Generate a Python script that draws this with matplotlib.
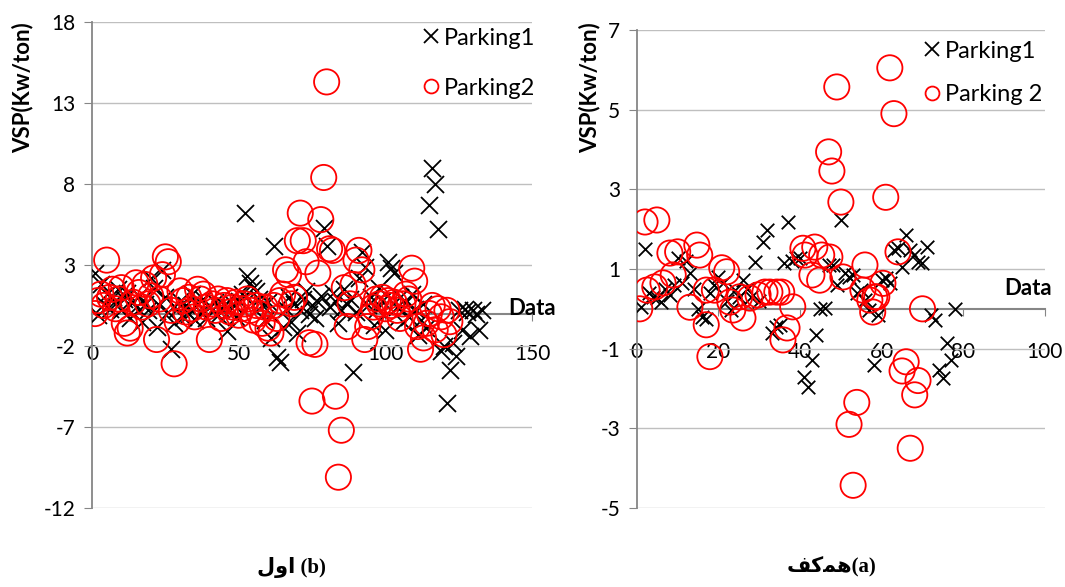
import numpy as np
import matplotlib
matplotlib.use("Agg")
import matplotlib.pyplot as plt
from matplotlib.lines import Line2D

plt.rcParams['font.family'] = ['Lato', 'DejaVu Sans']
plt.rcParams['axes.unicode_minus'] = False

# ---- left panel (b): VSP per data index ----
left_p1 = [2.5, -0.1, 1.8, 0.6, 1.2, 0.3, 1.0, 0.8, 1.5, 0.2,
           0.9, 1.3, -0.3, 0.7, 0.4, 1.1, -0.5, 0.6, 0.2, 2.2,
           1.6, -0.8, 0.5, 2.7, 1.0, 0.1, -2.2, -0.6, 0.3, 0.8,
           -0.2, 0.5, 0.0, 1.2, -0.4, 0.6, 0.1, 0.9, -0.3, 0.4,
           0.2, 0.7, -0.1, 0.3, 0.5, -1.1, 0.2, 0.6, -0.2, 0.8,
           1.2, 6.2, 2.3, 1.9, 1.6, 1.4, 0.9, 0.5, -0.4, 0.7,
           -1.5, 4.2, -2.7, -3.0, -0.8, 0.3, 1.0, -0.5, 0.6, -1.2,
           0.2, 0.9, 1.4, 0.0, 0.5, -0.3, 0.7, 1.1, 5.3, 4.2,
           0.4, 1.3, 0.8, -0.6, 0.2, 1.5, 0.6, 0.9, -3.6, 0.1,
           2.2, 3.8, 2.9, 0.5, 1.0, -0.7, 0.3, 1.6, 0.8, -1.0,
           3.2, 2.8, 2.5, 0.4, 1.0, -0.5, 0.7, -0.2, 1.2, 0.3,
           -1.3, -0.4, 0.6, -0.9, 6.7, 9.0, 8.0, 5.2, -2.3, -2.0,
           -5.5, -3.5, -1.8, -2.6, 0.2, -1.0, 0.3, 0.1, -1.4, 0.2,
           0.0, -1.0, 0.2]
left_p2 = [0.0, 0.8, 1.2, 0.5, 3.3, 1.0, 1.5, 0.3, 0.9, 1.6,
           -0.6, -1.2, -0.9, 0.7, 1.9, 1.3, 0.4, 1.8, 0.6, 1.1,
           2.2, -1.6, 0.9, 2.4, 3.5, 3.2, 0.2, -3.1, -0.5, 1.4,
           0.8, 0.1, 1.0, 0.3, -0.2, 1.5, 0.9, 1.2, 0.4, -1.6,
           0.6, 0.2, 0.9, -0.3, 0.5, 0.8, 0.1, 0.4, 0.7, -0.1,
           0.3, 0.6, 0.9, 0.2, -0.4, 0.5, 0.0, -0.6, 0.4, -0.9,
           -1.2, 0.5, -0.3, 0.8, 1.2, 2.7, 2.4, 0.6, 1.0, 4.5,
           6.2, 4.5, 3.2, -1.8, -5.4, -1.9, 2.5, 5.8, 8.4, 14.3,
           4.0, 3.9, -5.1, -10.1, -7.2, 1.6, -0.8, 0.6, 1.8, 3.3,
           3.9, 2.7, -1.6, -0.8, -0.2, 0.4, 0.9, 0.6, 1.0, 0.3,
           0.8, 0.5, 0.7, 0.2, -0.3, 0.6, 1.2, 0.9, 2.8, 2.0,
           -0.8, -2.2, -1.5, -0.6, 0.0, 0.5, -1.0, 0.3, -0.2, -1.3,
           0.2, -0.5]

# ---- right panel (a) ----
right_p1 = [0.05, 1.5, 0.4, 0.3, 0.27, 0.17, 0.5, 0.35, 0.6, 1.27,
            0.65, 1.2, 0.9, 0.5, 0.0, -0.2, -0.25, 0.4, 0.6, 0.8,
            0.65, 0.2, -0.03, 0.47, 0.3, 0.72, 0.5, 0.3, 1.18, 0.2,
            1.68, 1.97, -0.6, -0.45, -0.4, 1.15, 2.18, 1.2, 1.27, 1.27,
            -1.7, -1.96, -1.28, -0.66, 0.0, 0.02, 1.1, 1.1, 0.6, 2.23,
            0.9, 0.8, 0.85, 0.4, 0.47, 0.22, -0.03, -1.42, -0.16, 0.72,
            0.77, 0.64, 1.48, 1.52, 1.05, 1.85, 1.48, 1.35, 1.18, 1.15,
            1.55, -0.16, -0.28, -1.54, -1.74, -0.86, -1.28, 0.0]
right_p2_x = [0.7, 2, 2.5, 4.4, 4.9, 6.4, 8.1, 8.9, 10, 13,
              14.7, 15.4, 17, 17, 17.9, 19, 20.8, 22, 22.8, 23.5,
              25.2, 26, 27.7, 29.7, 31.4, 32.6, 34.3, 35.5, 35.8, 36.8,
              38.2, 40.7, 41.2, 42.9, 43.6, 44.8, 45.3, 47, 47.3, 47.8,
              49, 50, 50.5, 52, 53, 53.9, 55.4, 55.9, 57.1, 57.8,
              58.3, 58.8, 60.3, 61, 62, 63, 64, 65, 66, 67,
              68.1, 68.9, 70]
right_p2_y = [0.0, 2.18, 0.47, 0.55, 2.23, 0.65, 1.4, 0.85, 1.43, 0.04,
              1.6, 1.35, -0.4, 0.47, -1.2, 0.47, 1.03, 0.93, 0.17, -0.03,
              0.3, -0.23, 0.27, 0.35, 0.42, 0.42, 0.42, 0.42, -0.78, -0.48,
              0.05, 1.52, 1.35, 0.85, 1.55, 0.72, 1.35, 3.94, 1.3, 3.46,
              5.57, 2.68, 0.8, -2.9, -4.43, -2.35, 0.47, 1.1, 0.22, -0.08,
              0.3, 0.3, 0.64, 2.8, 6.05, 4.9, 1.43, -1.56, -1.33, -3.5,
              -2.16, -1.8, 0.0]

AX_GRAY = '#868686'
GRID_GRAY = '#bfbfbf'
FS = 15
LEG_FS = 17

fig = plt.figure(figsize=(10.65, 5.87), dpi=100)


def style_axes(ax, ylim, yticks, xlim, xticks, xpad):
    ax.set_xlim(*xlim)
    ax.set_ylim(*ylim)
    ax.set_yticks(yticks)
    ax.set_xticks(xticks)
    ax.spines['top'].set_visible(False)
    ax.spines['right'].set_visible(False)
    ax.spines['left'].set_color(AX_GRAY)
    ax.spines['left'].set_linewidth(1.3)
    ax.spines['bottom'].set_position(('data', 0))
    ax.spines['bottom'].set_color(AX_GRAY)
    ax.spines['bottom'].set_linewidth(1.5)
    ax.yaxis.grid(True, color=GRID_GRAY, linewidth=1.0)
    ax.set_axisbelow(True)
    ax.tick_params(axis='y', direction='out', length=6, color=AX_GRAY,
                   labelsize=FS, pad=6)
    ax.tick_params(axis='x', direction='out', length=5, color=AX_GRAY,
                   labelsize=FS, pad=xpad)


def legend_handles():
    return [Line2D([], [], marker='x', ls='', ms=10, mew=1.3, color='black'),
            Line2D([], [], marker='o', ls='', ms=10, mew=1.3, mfc='none', mec='red')]


# left chart
ax1 = fig.add_axes([0.0864, 0.1346, 0.4131, 0.828])
x1 = np.arange(1, len(left_p1) + 1)
x2 = np.arange(1, len(left_p2) + 1)
ax1.scatter(x1, left_p1, marker='x', s=150, c='black', linewidths=1.3, zorder=3)
ax1.scatter(x2, left_p2, marker='o', s=330, facecolors='none',
            edgecolors='red', linewidths=1.3, zorder=4)
style_axes(ax1, (-12, 18), np.arange(-12, 19, 5), (0, 150), [0, 50, 100, 150], 17)
ax1.text(150, 0.3, 'Data', fontsize=16, fontweight='bold', ha='center', va='center')
fig.legend(legend_handles(), ['Parking1', 'Parking2'], loc='upper left',
           bbox_to_anchor=(0.385, 0.973), frameon=False, fontsize=LEG_FS,
           handlelength=0.8, handletextpad=0.15, labelspacing=1.23, borderpad=0)
fig.text(0.021, 0.85, 'VSP(Kw/ton)', rotation=90, fontsize=16, fontweight='bold',
         ha='center', va='center')

# right chart
ax2 = fig.add_axes([0.598, 0.1346, 0.3831, 0.8143])
x3 = np.arange(1, len(right_p1) + 1)
ax2.scatter(x3, right_p1, marker='x', s=95, c='black', linewidths=1.3, zorder=3)
ax2.scatter(right_p2_x, right_p2_y, marker='o', s=330, facecolors='none',
            edgecolors='red', linewidths=1.3, zorder=4)
style_axes(ax2, (-5, 7), np.arange(-5, 8, 2), (0, 100), np.arange(0, 101, 20), 19)
ax2.text(96, 0.5, 'Data', fontsize=16, fontweight='bold', ha='center', va='center')
fig.legend(legend_handles(), ['Parking1', 'Parking 2'], loc='upper left',
           bbox_to_anchor=(0.855, 0.951), frameon=False, fontsize=LEG_FS,
           handlelength=0.8, handletextpad=0.15, labelspacing=0.97, borderpad=0)
fig.text(0.554, 0.85, 'VSP(Kw/ton)', rotation=90, fontsize=16, fontweight='bold',
         ha='center', va='center')

# captions (Persian words written in visual order)
cap_font = ['Liberation Serif', 'DejaVu Sans']
fig.text(0.274, 0.034, '\u0644\u0648\u0627 (b)', fontsize=15, fontweight='bold',
         family=cap_font, ha='center', va='center')
fig.text(0.781, 0.034, '\uFED2\uFB90\uFEE4\uFEEB(a)', fontsize=15, fontweight='bold',
         family=cap_font, ha='center', va='center')

fig.savefig('out.png', dpi=100)
